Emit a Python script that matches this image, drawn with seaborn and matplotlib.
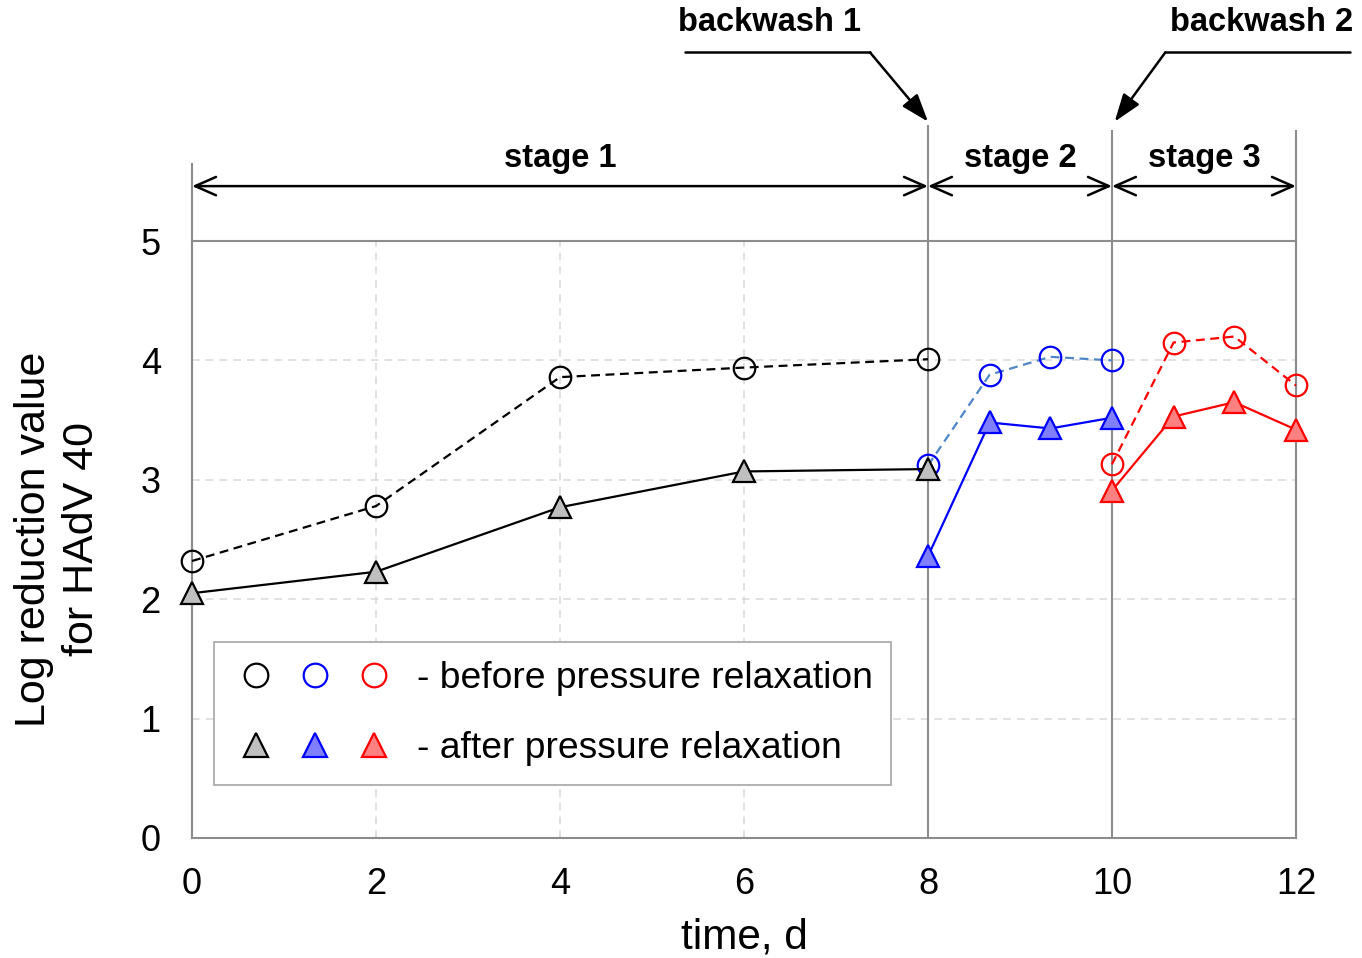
import matplotlib
matplotlib.use("Agg")
import matplotlib.pyplot as plt
import seaborn as sns
import numpy as np
from matplotlib.lines import Line2D
from matplotlib.legend_handler import HandlerTuple

# ---- data ----
x_s1 = [0, 2, 4, 6, 8]
before_s1 = [2.32, 2.78, 3.86, 3.94, 4.01]
after_s1 = [2.05, 2.23, 2.77, 3.07, 3.09]

x_s2 = [8, 8.67, 9.33, 10]
before_s2 = [3.12, 3.88, 4.03, 4.00]
after_s2 = [2.36, 3.48, 3.43, 3.52]

x_s3 = [10, 10.67, 11.33, 12]
before_s3 = [3.13, 4.15, 4.20, 3.79]
after_s3 = [2.91, 3.53, 3.65, 3.42]

x_ticks = [0, 2, 4, 6, 8, 10, 12]
y_ticks = [0, 1, 2, 3, 4, 5]
stage_labels = ["stage 1", "stage 2", "stage 3"]
stage_bounds = [(0, 8), (8, 10), (10, 12)]
legend_labels = ["- before pressure relaxation", "- after pressure relaxation"]

sns.set_style("white")
plt.rcParams["font.family"] = ["Liberation Sans", "DejaVu Sans"]
plt.rcParams["text.color"] = "black"
plt.rcParams["axes.labelcolor"] = "black"

fig = plt.figure(figsize=(13.62, 9.58), dpi=100)
ax = fig.add_axes([0.141, 0.1253, 0.8105, 0.6231])

grey = "#8c8c8c"
lw = 1.6
dash = (0, (4, 2.5))

c_black, c_blue, c_red = "black", "#0000ff", "#ff0000"
c_blue_line = "#4f86c6"

def series(x, y, line_color, ls, marker, mec, mfc, ms, z):
    sns.lineplot(x=x, y=y, ax=ax, color=line_color, linestyle=ls, linewidth=lw,
                 marker=marker, markersize=ms, markeredgecolor=mec,
                 markerfacecolor=mfc, markeredgewidth=1.6, zorder=z,
                 clip_on=False)

ms_c, ms_t = 15.5, 16
series(x_s2, before_s2, c_blue_line, dash, "o", c_blue, "none", ms_c, 4)
series(x_s2, after_s2, c_blue, "-", "^", c_blue, "#7f7fff", ms_t, 5)
series(x_s1, before_s1, c_black, dash, "o", c_black, "none", ms_c, 6)
series(x_s1, after_s1, c_black, "-", "^", c_black, "#bfbfbf", ms_t, 7)
series(x_s3, before_s3, c_red, dash, "o", c_red, "none", ms_c, 6)
series(x_s3, after_s3, c_red, "-", "^", c_red, "#ff8080", ms_t, 7)

ax.set_xlim(0, 12)
ax.set_ylim(0, 5)
ax.set_xticks(x_ticks)
ax.set_yticks(y_ticks)
ax.tick_params(axis="both", labelsize=26, colors=grey, labelcolor="black",
               direction="out", width=1.5)
ax.tick_params(axis="x", length=7, pad=14)
ax.tick_params(axis="y", length=8.5, pad=14)

ax.grid(True, color="#d9d9d9", linestyle=(0, (5, 4)), linewidth=1.1)
ax.set_axisbelow(True)

for side in ["left", "bottom", "top", "right"]:
    ax.spines[side].set_color(grey)
    ax.spines[side].set_linewidth(1.5)
    ax.spines[side].set_visible(True)

ax.vlines([8, 10, 12], 0, [5.97, 5.93, 5.93], colors=grey, linewidth=1.5,
          clip_on=False, zorder=3)
ax.vlines([0], 0, 5.65, colors=grey, linewidth=1.5, clip_on=False, zorder=3)

for (a, b), lab in zip(stage_bounds, stage_labels):
    ax.annotate("", xy=(a, 5.46), xytext=(b, 5.46), xycoords="data",
                arrowprops=dict(arrowstyle="<->,head_length=0.75,head_width=0.33",
                                mutation_scale=20, color="black", lw=1.8,
                                shrinkA=0, shrinkB=0), annotation_clip=False)
    ax.text((a + b) / 2, 5.69, lab, ha="center", va="center", fontsize=23.5,
            fontweight="bold", clip_on=False)

ax.plot([5.36, 7.37], [6.58, 6.58], color="black", lw=1.8, clip_on=False)
ax.annotate("", xy=(8.0, 6.0), xytext=(7.37, 6.58),
            arrowprops=dict(arrowstyle="-|>,head_length=0.85,head_width=0.3",
                            mutation_scale=20, color="black", lw=1.8,
                            shrinkA=0, shrinkB=0), annotation_clip=False)
ax.text(6.28, 6.83, "backwash 1", ha="center", va="center", fontsize=23.5,
        fontweight="bold", clip_on=False)

ax.plot([10.58, 12.59], [6.58, 6.58], color="black", lw=1.8, clip_on=False)
ax.annotate("", xy=(10.03, 6.0), xytext=(10.58, 6.58),
            arrowprops=dict(arrowstyle="-|>,head_length=0.85,head_width=0.3",
                            mutation_scale=20, color="black", lw=1.8,
                            shrinkA=0, shrinkB=0), annotation_clip=False)
ax.text(11.63, 6.83, "backwash 2", ha="center", va="center", fontsize=23.5,
        fontweight="bold", clip_on=False)

ax.set_xlabel("time, d", fontsize=30.5, labelpad=11)
ax.set_ylabel("Log reduction value\nfor HAdV 40", fontsize=31, labelpad=28,
              linespacing=1.25)

def mk(marker, mec, mfc, ms):
    return Line2D([], [], linestyle="none", marker=marker, markersize=ms,
                  markeredgecolor=mec, markerfacecolor=mfc, markeredgewidth=1.6)

h_before = (mk("o", c_black, "none", 17), mk("o", c_blue, "none", 17),
            mk("o", c_red, "none", 17))
h_after = (mk("^", c_black, "#bfbfbf", 17), mk("^", c_blue, "#7f7fff", 17),
           mk("^", c_red, "#ff8080", 17))
leg = ax.legend([h_before, h_after], legend_labels,
                handler_map={tuple: HandlerTuple(ndivide=None, pad=0.35)},
                loc="lower left", bbox_to_anchor=(0.02, 0.089),
                borderaxespad=0, fontsize=26.8, handlelength=4.4,
                handletextpad=0.55, labelspacing=0.95, borderpad=0.5,
                frameon=True, fancybox=False, edgecolor="#a6a6a6",
                framealpha=1)
leg.get_frame().set_linewidth(1.2)
leg.set_zorder(10)

fig.savefig("out.png", dpi=100)
